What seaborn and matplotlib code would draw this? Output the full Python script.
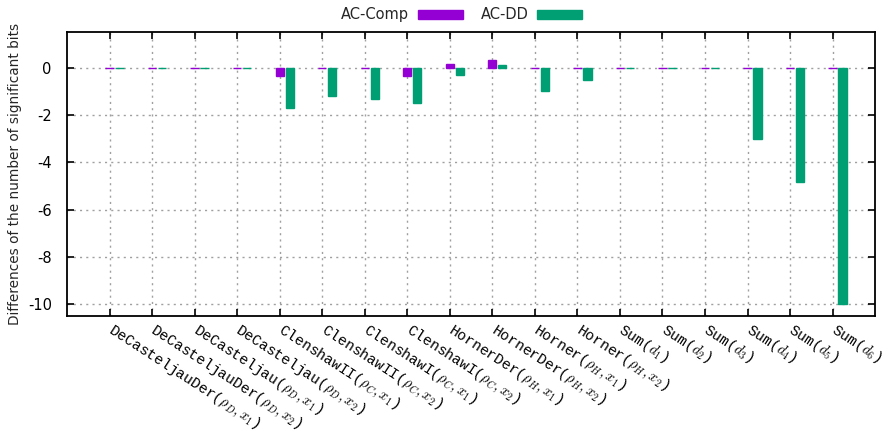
import numpy as np
import pandas as pd
import matplotlib
matplotlib.use("Agg")
import matplotlib.pyplot as plt
from matplotlib.patches import Patch
import seaborn as sns

# tick labels (typewriter text with math subscripts)
categories = [
    r"DeCasteljauDer($\rho_D, x_1$)", r"DeCasteljauDer($\rho_D, x_2$)",
    r"DeCasteljau($\rho_D, x_1$)", r"DeCasteljau($\rho_D, x_2$)",
    r"ClenshawII($\rho_C, x_1$)", r"ClenshawII($\rho_C, x_2$)",
    r"ClenshawI($\rho_C, x_1$)", r"ClenshawI($\rho_C, x_2$)",
    r"HornerDer($\rho_H, x_1$)", r"HornerDer($\rho_H, x_2$)",
    r"Horner($\rho_H, x_1$)", r"Horner($\rho_H, x_2$)",
    r"Sum($d_1$)", r"Sum($d_2$)", r"Sum($d_3$)",
    r"Sum($d_4$)", r"Sum($d_5$)", r"Sum($d_6$)",
]
ac_comp = [0, 0, 0, 0, -0.35, 0, 0, -0.35, 0.15, 0.3, 0, 0, 0, 0, 0, 0, 0, 0]
ac_dd = [0, 0, 0, 0, -1.7, -1.22, -1.32, -1.5, -0.33, 0.12, -1.0, -0.52,
         0, 0, 0, -3.0, -4.82, -10.0]
series = ["AC-Comp", "AC-DD"]
colors = ["#9400D3", "#009E73"]
yticks = [0, -2, -4, -6, -8, -10]

n = len(categories)
df = pd.DataFrame({
    "cat": list(range(n)) * 2,
    "val": ac_comp + ac_dd,
    "method": [series[0]] * n + [series[1]] * n,
})

sns.set_style("white")
plt.rcParams["font.family"] = ["DejaVu Sans"]
plt.rcParams["mathtext.fontset"] = "cm"

fig = plt.figure(figsize=(8.88, 4.36), dpi=100)
ax = fig.add_axes([0.0755, 0.2752, 0.91, 0.6514])

sns.barplot(data=df, x="cat", y="val", hue="method", palette=colors,
            width=0.47, gap=0.17, dodge=True, ax=ax, legend=False,
            errorbar=None, saturation=1, zorder=3)
for p in ax.patches:
    p.set_edgecolor(p.get_facecolor())
    p.set_linewidth(1.0)

off = 0.1175
tick_pos = np.arange(n) - off
ax.set_xticks(tick_pos)
ax.set_xticklabels(categories, rotation=-33, ha="left", va="center",
                   rotation_mode="anchor", family="Liberation Mono", fontsize=10.5)
ax.set_xlim(-1 - off, n - off)
ax.set_ylim(-10.5, 1.5)
ax.set_yticks(yticks)
ax.set_yticklabels([str(v) for v in yticks], fontsize=10.5)

ax.set_xlabel("")
ax.set_ylabel("Differences of the number of significant bits", fontsize=9.8)
ax.yaxis.set_label_coords(-0.056, 0.5)

ax.grid(True, which="major", color="#a0a0a0", linestyle=(0, (1.5, 3)), linewidth=1)
ax.set_axisbelow(True)
ax.tick_params(axis="both", direction="in", length=5, width=1.2,
               top=True, right=True, bottom=True, left=True, colors="black")
ax.tick_params(axis="y", pad=11)
ax.tick_params(axis="x", pad=9)
for s in ax.spines.values():
    s.set_visible(True)
    s.set_color("black")
    s.set_linewidth(1.3)

handles = [Patch(facecolor=c, edgecolor=c) for c in colors]
fig.legend(handles, series, loc="center", bbox_to_anchor=(0.52, 0.966), ncol=2,
           frameon=False, markerfirst=False, handlelength=3.1, handleheight=0.6,
           columnspacing=1.2, handletextpad=0.6, fontsize=10.5)

fig.savefig("out.png", dpi=100)
